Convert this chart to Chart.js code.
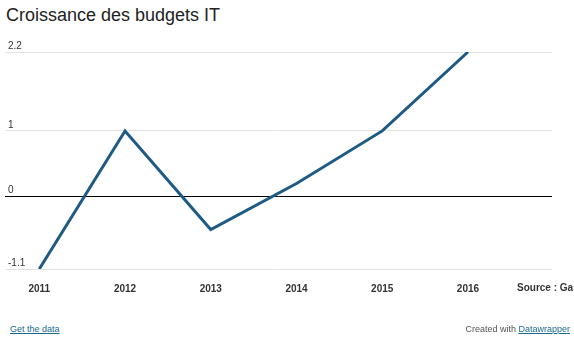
<!DOCTYPE html>
<html>
<head>
<meta charset="utf-8">
<script src="https://cdn.jsdelivr.net/npm/chart.js@4"></script>
<style>
  body { margin: 0; background: #fff; font-family: "Liberation Sans", Arial, sans-serif; }
  #wrap { position: relative; width: 574px; height: 340px; overflow: hidden; }
  #titre { position: absolute; left: 6px; top: 5px; font-size: 18px; color: #222; }
  #graph { position: absolute; left: 0; top: 0; width: 574px; height: 309px; }
  #source { position: absolute; left: 517px; top: 282px; font-size: 10px; font-weight: bold; color: #333; white-space: nowrap; }
  .pied { position: absolute; top: 324px; font-size: 9px; color: #555; }
  .pied a { color: #1a6b8a; text-decoration: underline; }
</style>
</head>
<body>
<div id="wrap">
  <div id="titre">Croissance des budgets IT</div>
  <div id="graph"><canvas id="chart"></canvas></div>
  <div id="source">Source : Gartner</div>
  <div class="pied" style="left:10px"><a href="#">Get the data</a></div>
  <div class="pied" style="right:4px">Created with <a href="#">Datawrapper</a></div>
</div>
<script>
// données
const annees = [2011, 2012, 2013, 2014, 2015, 2016];
const croissance = [-1.1, 1.0, -0.5, 0.2, 1.0, 2.2];
const ticksY = [-1.1, 0, 1, 2.2];

const ctx = document.getElementById('chart').getContext('2d');
new Chart(ctx, {
    type: 'line',
    data: {
        datasets: [{
            label: 'Croissance',
            data: annees.map((a, i) => ({ x: a, y: croissance[i] })),
            borderColor: '#1d5b85',
            borderWidth: 3,
            pointRadius: 0,
            tension: 0,
            fill: false
        }]
    },
    options: {
        responsive: true,
        maintainAspectRatio: false,
        animation: false,
        layout: { padding: { left: 5, right: 22, top: 52, bottom: 0 } },
        plugins: { legend: { display: false }, tooltip: { enabled: false } },
        scales: {
            x: {
                type: 'linear',
                min: 2010.6,
                max: 2016.98,
                afterBuildTicks: (axis) => { axis.ticks = annees.map(v => ({ value: v })); },
                grid: { display: false, drawTicks: false },
                border: { display: false },
                ticks: {
                    color: '#333',
                    padding: 14,
                    font: { family: '"Liberation Sans", Arial', size: 10, weight: 'bold' },
                    callback: (v) => String(v)
                }
            },
            y: {
                min: -1.1,
                max: 2.2,
                afterBuildTicks: (axis) => { axis.ticks = ticksY.map(v => ({ value: v })); },
                afterFit: (axis) => { axis.width = 0; },
                grid: {
                    drawTicks: false,
                    lineWidth: 1,
                    color: (c) => c.tick && c.tick.value === 0 ? '#000' : '#e3e3e3'
                },
                border: { display: false },
                ticks: {
                    mirror: true,
                    padding: 3,
                    labelOffset: -6,
                    color: '#333',
                    font: { family: '"Liberation Sans", Arial', size: 10 },
                    callback: (v) => String(v)
                }
            }
        }
    }
});
</script>
</body>
</html>
